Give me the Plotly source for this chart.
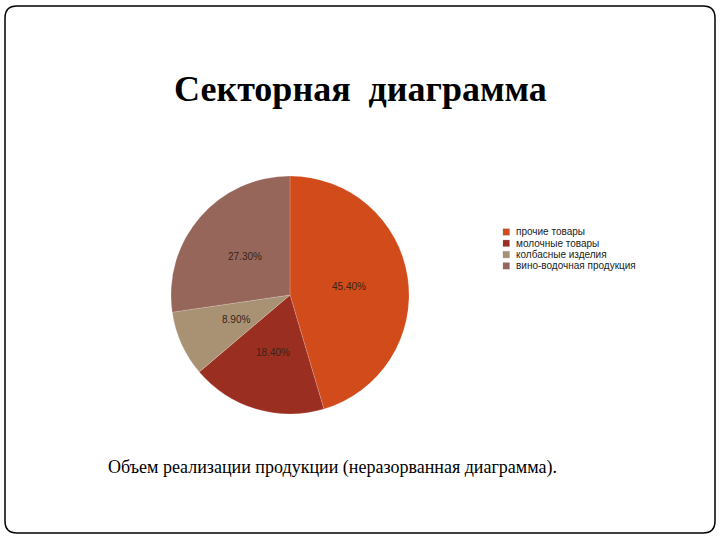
import math
import plotly.graph_objects as go

categories = ["прочие товары", "молочные товары", "колбасные изделия", "вино-водочная продукция"]
values = [45.4, 18.4, 8.9, 27.3]
colors = ["#D24B1A", "#9A2E20", "#A89273", "#97665A"]
title_text = "Секторная  диаграмма"
caption_text = "Объем реализации продукции (неразорванная диаграмма)."

W, H = 720, 540
# pie geometry (pixels)
cx, cy, R = 290, 295, 119

def px(x): return x / W
def py(y): return 1 - y / H

fig = go.Figure()
fig.add_trace(go.Pie(
    labels=categories,
    values=values,
    sort=False,
    direction="clockwise",
    rotation=0,
    marker=dict(colors=colors, line=dict(color="rgba(255,255,255,0.35)", width=0.5)),
    textinfo="none",
    showlegend=False,
    domain=dict(x=[px(cx - R), px(cx + R)], y=[py(cy + R), py(cy - R)]),
    hoverinfo="label+percent",
))

annotations = []
shapes = []

# slice labels at half radius along mid-angle, computed from the data
total = sum(values)
acc = 0.0
for v in values:
    mid = (acc + v / 2) / total * 2 * math.pi
    acc += v
    lx = cx + 0.5 * R * math.sin(mid)
    ly = cy - 0.5 * R * math.cos(mid)
    annotations.append(dict(text=f"{v / total * 100:.2f}%", x=px(lx), y=py(ly),
                            xref="paper", yref="paper", showarrow=False,
                            xanchor="center", yanchor="middle",
                            font=dict(family="Liberation Sans, Arial", size=10, color="#3a2418")))

# legend (compact, built from categories/colors)
lx0, ly0, step, sq = 503, 232, 11.3, 6.5
for i, (name, col) in enumerate(zip(categories, colors)):
    yc = ly0 + i * step
    shapes.append(dict(type="rect", xref="paper", yref="paper",
                       x0=px(lx0), x1=px(lx0 + sq), y0=py(yc + sq / 2), y1=py(yc - sq / 2),
                       fillcolor=col, line=dict(color="rgba(120,120,120,0.5)", width=0.5)))
    annotations.append(dict(text=name, x=px(lx0 + sq + 4), y=py(yc), xref="paper", yref="paper",
                            showarrow=False, xanchor="left", yanchor="middle",
                            font=dict(family="Liberation Sans, Arial", size=10, color="#222")))

# rounded frame
r = 12
x0, y0, x1, y1 = 5, 6, 715, 533
path_paper = (f"M {px(x0+r)},{py(y0)} L {px(x1-r)},{py(y0)} Q {px(x1)},{py(y0)} {px(x1)},{py(y0+r)} "
              f"L {px(x1)},{py(y1-r)} Q {px(x1)},{py(y1)} {px(x1-r)},{py(y1)} L {px(x0+r)},{py(y1)} "
              f"Q {px(x0)},{py(y1)} {px(x0)},{py(y1-r)} L {px(x0)},{py(y0+r)} Q {px(x0)},{py(y0)} {px(x0+r)},{py(y0)} Z")
shapes.append(dict(type="path", path=path_paper, xref="paper", yref="paper",
                   line=dict(color="black", width=1.5), fillcolor="rgba(0,0,0,0)"))

annotations += [
    dict(text=f"<b>{title_text}</b>", x=px(360), y=py(89), xref="paper", yref="paper",
         showarrow=False, xanchor="center", yanchor="middle",
         font=dict(family="Liberation Serif, Times New Roman", size=36, color="black")),
    dict(text=caption_text, x=px(106), y=py(467), xref="paper", yref="paper",
         showarrow=False, xanchor="left", yanchor="middle",
         font=dict(family="Liberation Serif, Times New Roman", size=18, color="black")),
]

fig.update_layout(
    width=W, height=H,
    margin=dict(l=0, r=0, t=0, b=0),
    paper_bgcolor="white",
    plot_bgcolor="white",
    showlegend=False,
    shapes=shapes,
    annotations=annotations,
)

fig.write_html("out.html")
